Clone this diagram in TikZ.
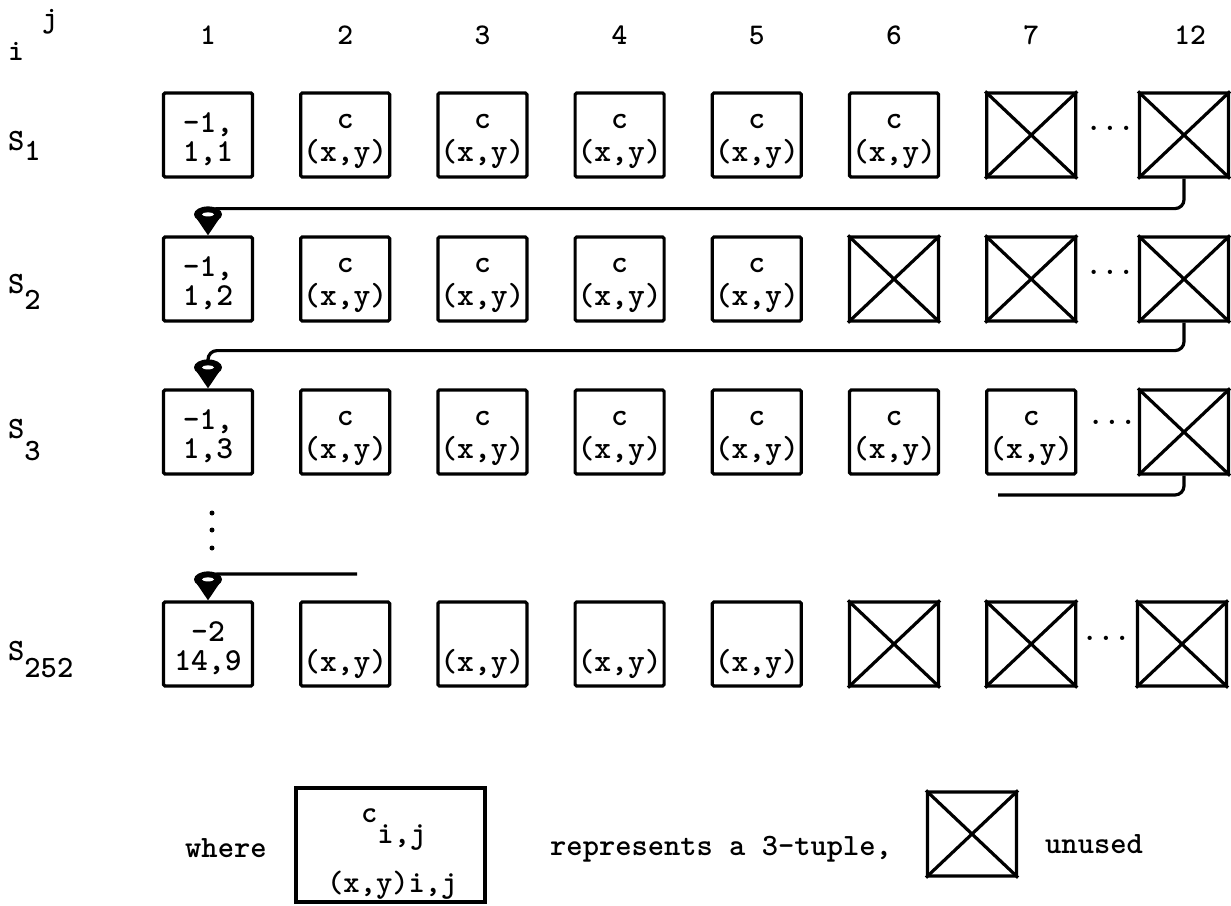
\documentclass[tikz,border=0pt]{standalone}
\usetikzlibrary{arrows.meta,calc}
\tikzset{
  cellbox/.style={draw, line width=3.2pt, minimum width=89pt, minimum height=84pt, inner sep=0pt, rounded corners=1.5pt},
  celltxt/.style={font=\fontsize{32}{33}\selectfont\ttfamily\bfseries, inner sep=0pt},
  hdr/.style={font=\fontsize{30}{31}\selectfont\ttfamily\bfseries, inner sep=0pt, anchor=base},
  lbl/.style={font=\fontsize{31}{32}\selectfont\ttfamily\bfseries, inner sep=0pt, anchor=base west},
  legtxt/.style={font=\fontsize{31}{32}\selectfont\ttfamily\bfseries, inner sep=0pt, anchor=base west},
  dotsnode/.style={font=\fontsize{31}{32}\selectfont\ttfamily\bfseries, inner sep=0pt},
  vdot/.style={fill, circle, minimum size=5pt, inner sep=0pt},
  conn/.style={line width=3.2pt, rounded corners=9pt},
  funneltip/.style={-{Triangle[width=22pt,length=17pt]}},
  crossline/.style={line width=3.2pt}
}
\newcommand\ncell[5]{%
  \node[cellbox] (#1) at (#2,#3) {};
  \node[celltxt,anchor=base] (#1a) at ($(#1.center)+(0,-3)$) {#4};
  \node[celltxt,anchor=base] (#1b) at ($(#1.center)+(0,26)$) {#5};}
\newcommand\ccell[3]{%
  \node[cellbox] (#1) at (#2,#3) {};
  \node[celltxt,anchor=base] (#1a) at ($(#1.center)+(0,-7)$) {c};
  \node[celltxt,anchor=base] (#1b) at ($(#1.center)+(0,26)$) {(x,y)};}
\newcommand\pcell[3]{%
  \node[cellbox] (#1) at (#2,#3) {};
  \node[celltxt,anchor=base] (#1b) at ($(#1.center)+(0,27)$) {(x,y)};}
\newcommand\ucell[3]{%
  \node[cellbox] (#1) at (#2,#3) {};
  \draw[crossline] (#1.north west) -- (#1.south east) (#1.north east) -- (#1.south west);}
\newcommand\funnel[1]{%
  \fill ($(#1.north)+(0,-21)$) ellipse [x radius=14, y radius=8];
  \fill[white] ($(#1.north)+(0,-21)$) ellipse [x radius=6, y radius=2];}
\begin{document}
\begin{tikzpicture}[x=1pt,y=-1pt]
\useasboundingbox (0,0) rectangle (1231,905);
% headers
\node[hdr] (hj) at (50,27) {j};
\node[hdr] (hi) at (16,60) {i};
\node[hdr] (h1) at (208,44) {1};
\node[hdr] (h2) at (345.2,44) {2};
\node[hdr] (h3) at (482.4,44) {3};
\node[hdr] (h4) at (619.6,44) {4};
\node[hdr] (h5) at (756.8,44) {5};
\node[hdr] (h6) at (894,44) {6};
\node[hdr] (h7) at (1031.2,44) {7};
\node[hdr] (h12) at (1190,44) {12};
% row labels
\node[lbl] (S1) at (8,150) {S\raisebox{-10pt}{1}};
\node[lbl] (S2) at (8,293) {S\raisebox{-16pt}{2}};
\node[lbl] (S3) at (8,438) {S\raisebox{-22pt}{3}};
\node[lbl] (S252) at (8,660) {S\raisebox{-17pt}{252}};
% row 1
\ncell{r1c1}{208}{135}{-1,}{1,1}
\ccell{r1c2}{345.2}{135}
\ccell{r1c3}{482.4}{135}
\ccell{r1c4}{619.6}{135}
\ccell{r1c5}{756.8}{135}
\ccell{r1c6}{894}{135}
\ucell{r1c7}{1031.2}{135}
\node[dotsnode] (d1) at (1110,128) {...};
\ucell{r1c12}{1184}{135}
% row 2
\ncell{r2c1}{208}{279}{-1,}{1,2}
\ccell{r2c2}{345.2}{279}
\ccell{r2c3}{482.4}{279}
\ccell{r2c4}{619.6}{279}
\ccell{r2c5}{756.8}{279}
\ucell{r2c6}{894}{279}
\ucell{r2c7}{1031.2}{279}
\node[dotsnode] (d2) at (1110,272) {...};
\ucell{r2c12}{1184}{279}
% row 3
\ncell{r3c1}{208}{432}{-1,}{1,3}
\ccell{r3c2}{345.2}{432}
\ccell{r3c3}{482.4}{432}
\ccell{r3c4}{619.6}{432}
\ccell{r3c5}{756.8}{432}
\ccell{r3c6}{894}{432}
\ccell{r3c7}{1031.2}{432}
\node[dotsnode] (d3) at (1112,422) {...};
\ucell{r3c12}{1184}{432}
% vertical dots
\node[vdot] (vd1) at (212,513) {};
\node[vdot] (vd2) at (212,530) {};
\node[vdot] (vd3) at (212,548) {};
% row 252
\ncell{r4c1}{208}{644}{-2}{14,9}
\pcell{r4c2}{345.2}{644}
\pcell{r4c3}{482.4}{644}
\pcell{r4c4}{619.6}{644}
\pcell{r4c5}{756.8}{644}
\ucell{r4c6}{894}{644}
\ucell{r4c7}{1031.2}{644}
\node[dotsnode] (d4) at (1106,638) {...};
\ucell{r4c12}{1182}{644}
% connectors
\draw[conn,funneltip] (r1c12.south) -- ++(0,30) -| (r2c1.north);
\funnel{r2c1}
\draw[conn,funneltip] (r2c12.south) -- ++(0,28) -| (r3c1.north);
\funnel{r3c1}
\coordinate (e3) at (998,495);
\draw[conn] (r3c12.south) |- (e3);
\coordinate (s4) at (357,574);
\draw[conn,funneltip] (s4) -| (r4c1.north);
\funnel{r4c1}
% legend
\node[legtxt] (where) at (185,857) {where};
\node[draw, line width=3.2pt, minimum width=189pt, minimum height=114pt, inner sep=0pt] (leg) at (390.5,845) {};
\node[legtxt] (legc) at (361,822) {c\raisebox{-21pt}{i,j}};
\node[legtxt] (legxy) at (327,892) {(x,y)i,j};
\node[legtxt] (repr) at (550,855) {represents a 3-tuple,};
\ucell{legx}{972}{834}
\node[legtxt] (unused) at (1045,853) {unused};
\end{tikzpicture}
\end{document}
